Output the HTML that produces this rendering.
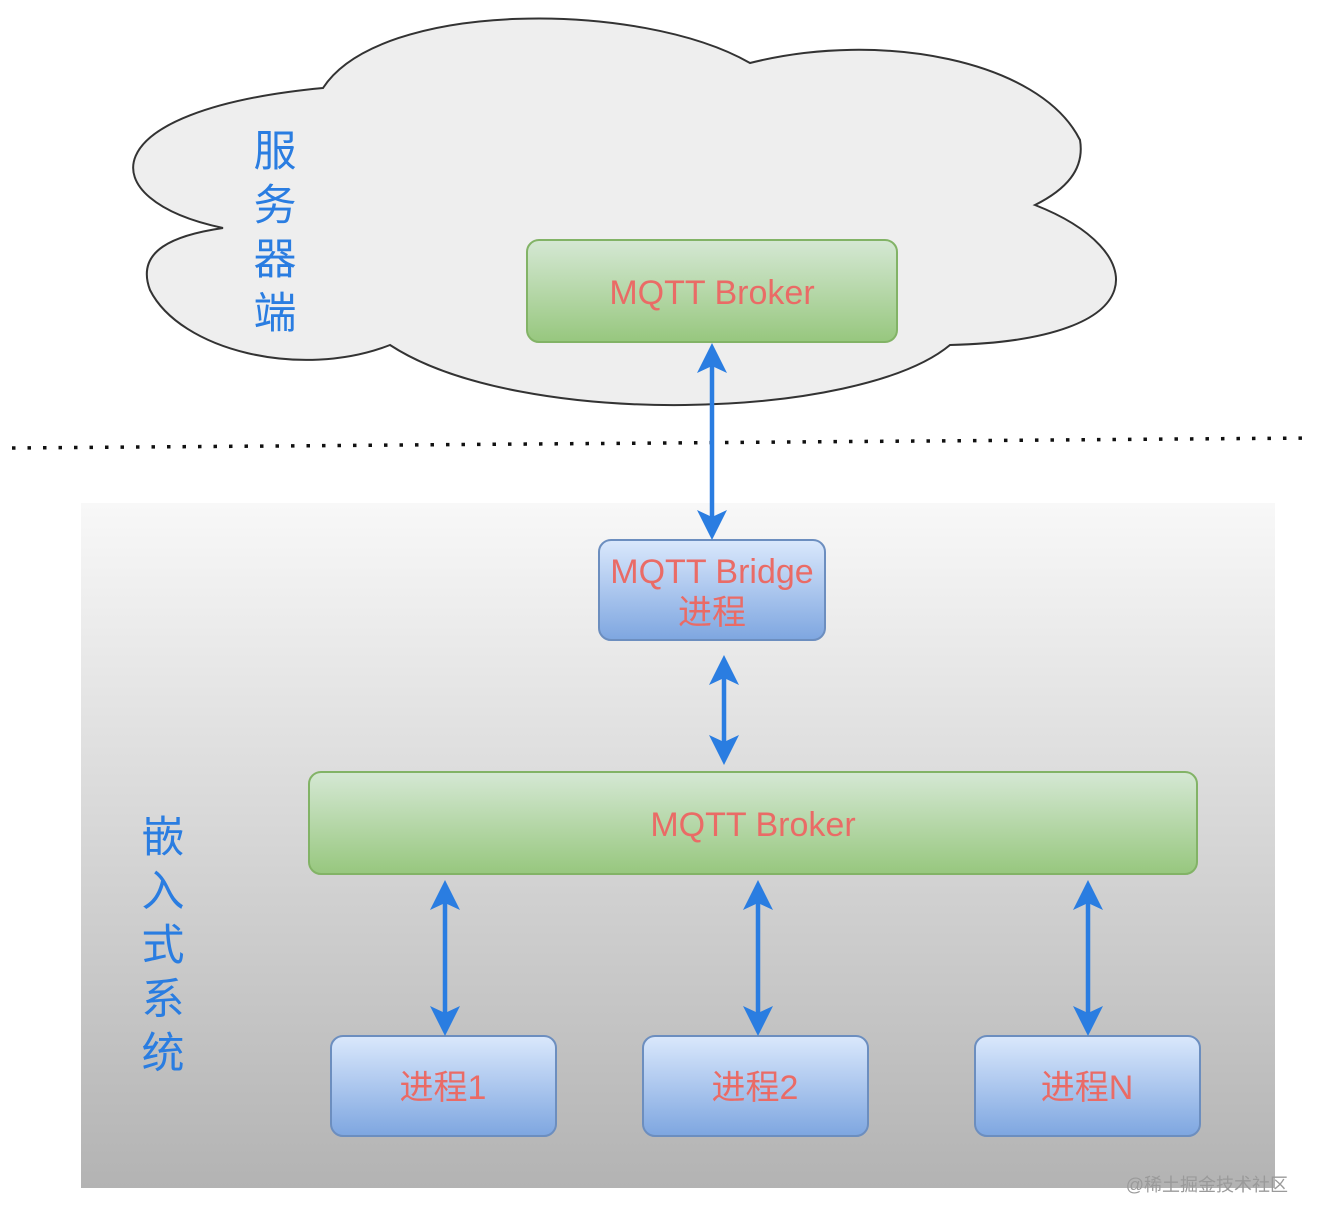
<!DOCTYPE html>
<html><head><meta charset="utf-8"><style>
html,body{margin:0;padding:0;background:#fff;}
svg text{font-family:"Liberation Sans","Noto Sans CJK SC",sans-serif;}
</style></head><body>
<svg width="1320" height="1226" viewBox="0 0 1320 1226" xmlns="http://www.w3.org/2000/svg">
<defs>
<linearGradient id="bg" x1="0" y1="0" x2="0" y2="1"><stop offset="0" stop-color="#f8f8f8"/><stop offset="1" stop-color="#b3b3b3"/></linearGradient>
<linearGradient id="gr" x1="0" y1="0" x2="0" y2="1"><stop offset="0" stop-color="#d5e8d4"/><stop offset="1" stop-color="#97c77e"/></linearGradient>
<linearGradient id="bl" x1="0" y1="0" x2="0" y2="1"><stop offset="0" stop-color="#dae8fc"/><stop offset="1" stop-color="#7ea6e0"/></linearGradient>
<marker id="ah" viewBox="0 0 10 10" refX="9" refY="5" markerWidth="8" markerHeight="8" orient="auto-start-reverse" markerUnits="userSpaceOnUse">
</marker>
</defs>
<rect x="81" y="503" width="1194" height="685" fill="url(#bg)"/>
<path d="M323,88 C380,0 640,0 750,63 C880,30 1040,60 1080,140 C1085,170 1065,190 1035,205 C1150,250 1160,340 950,345 C860,420 520,430 390,345 C300,380 180,350 150,290 C135,250 175,235 223,228 C90,200 90,110 323,88 Z" fill="#eeeeee" stroke="#333" stroke-width="2"/>
<line x1="12" y1="448" x2="1312" y2="438" stroke="#111" stroke-width="3.5" stroke-dasharray="3.5 12"/>
<g font-size="43" fill="#2a7de1" text-anchor="middle">
<text x="275" y="166">服</text><text x="275" y="220">务</text><text x="275" y="274">器</text><text x="275" y="328">端</text>
<text x="163" y="852">嵌</text><text x="163" y="906">入</text><text x="163" y="960">式</text><text x="163" y="1014">系</text><text x="163" y="1068">统</text>
</g>
<g stroke="#82b366" stroke-width="2" fill="url(#gr)">
<rect x="527" y="240" width="370" height="102" rx="12"/>
<rect x="309" y="772" width="888" height="102" rx="12"/>
</g>
<g stroke="#6c8ebf" stroke-width="2" fill="url(#bl)">
<rect x="599" y="540" width="226" height="100" rx="12"/>
<rect x="331" y="1036" width="225" height="100" rx="12"/>
<rect x="643" y="1036" width="225" height="100" rx="12"/>
<rect x="975" y="1036" width="225" height="100" rx="12"/>
</g>
<g font-size="34" fill="#ea6b66" text-anchor="middle">
<text x="712" y="304">MQTT Broker</text>
<text x="712" y="583">MQTT Bridge</text>
<text x="712" y="624">进程</text>
<text x="753" y="836">MQTT Broker</text>
<text x="443" y="1099">进程1</text>
<text x="755" y="1099">进程2</text>
<text x="1087" y="1099">进程N</text>
</g>
<g stroke="#2a7de1" stroke-width="4.5" fill="none">
<line x1="712" y1="365" x2="712" y2="520"/>
<line x1="724" y1="675" x2="724" y2="745"/>
<line x1="445" y1="900" x2="445" y2="1015"/>
<line x1="758" y1="900" x2="758" y2="1015"/>
<line x1="1088" y1="900" x2="1088" y2="1015"/>
</g>
<g fill="#2a7de1">
<path d="M712,343 L727,373 L712,366 L697,373Z"/><path d="M712,540 L727,510 L712,517 L697,510Z"/>
<path d="M724,655 L739,685 L724,678 L709,685Z"/><path d="M724,765 L739,735 L724,742 L709,735Z"/>
<path d="M445,880 L460,910 L445,903 L430,910Z"/><path d="M445,1036 L460,1006 L445,1013 L430,1006Z"/>
<path d="M758,880 L773,910 L758,903 L743,910Z"/><path d="M758,1036 L773,1006 L758,1013 L743,1006Z"/>
<path d="M1088,880 L1103,910 L1088,903 L1073,910Z"/><path d="M1088,1036 L1103,1006 L1088,1013 L1073,1006Z"/>
</g>
<text x="1288" y="1191" font-size="18" fill="#9a9a9a" text-anchor="end">@稀土掘金技术社区</text>
</svg>
</body></html>
